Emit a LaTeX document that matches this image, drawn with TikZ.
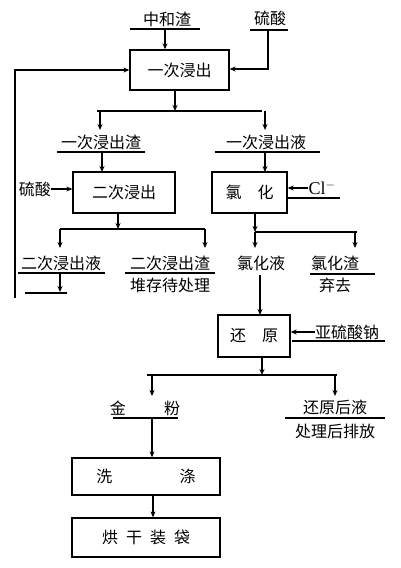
\documentclass[tikz,border=0pt]{standalone}
\usepackage{fontspec}
\setmainfont{Noto Sans CJK SC}
\newfontfamily\serifen{Liberation Serif}
\usetikzlibrary{arrows.meta}
\begin{document}
\begin{tikzpicture}[x=1pt,y=-1pt,
  ln/.style={line width=1.3pt},
  arr/.style={line width=1.3pt,-{Stealth[length=6pt,width=5pt]}},
  bx/.style={draw,line width=1.3pt,inner sep=0pt,font=\fontsize{16}{18}\selectfont},
  txt/.style={inner sep=0pt,font=\fontsize{16}{18}\selectfont}]
\useasboundingbox (0,0) rectangle (400,568);
% top inputs
\node[txt] (zhz) at (167,19) {中和渣};
\coordinate (u1a) at (130,29); \coordinate (u1b) at (200,29);
\draw[ln] (u1a) -- (u1b);
\node[txt] (ls1) at (270,18) {硫酸};
\coordinate (u2a) at (250,30); \coordinate (u2b) at (288,30);
\draw[ln] (u2a) -- (u2b);
% box 1
\node[bx,minimum width=99pt,minimum height=40pt] (b1) at (179.5,70) {一次浸出};
\coordinate (a1) at (165,29);
\draw[arr] (a1) -- (a1|-b1.north);
\coordinate (c1) at (268,30);
\coordinate (c2) at (268,69);
\draw[arr] (c1) -- (c2) -- (c2-|b1.east);
% recycle
\coordinate (r1) at (15,298);
\coordinate (r2) at (15,70);
\draw[arr] (r1) -- (r2) -- (b1.west);
% split 1
\coordinate (s1) at (175,111);
\draw[arr] (b1.south-|s1) -- (s1);
\draw[ln] (97,111) -- (262,111);
\node[txt] (t1) at (101,142) {一次浸出渣};
\node[txt] (t2) at (266,142) {一次浸出液};
\draw[arr] (100,111) -- (100,130);
\draw[arr] (265,111) -- (265,130);
\draw[ln] (57,152) -- (145,152);
\draw[ln] (215,152) -- (320,152);
% box 2, box 3
\node[bx,minimum width=102pt,minimum height=41pt] (b2) at (124,192.5) {二次浸出};
\node[bx,minimum width=75pt,minimum height=41pt] (b3) at (249.5,192.5) {氯\quad 化};
\draw[arr] (102,153) -- (102,172);
\draw[arr] (265,153) -- (265,172);
\node[txt] (ls2) at (35,189) {硫酸};
\draw[arr] (ls2.east) -- (b2.west|-ls2.east);
\node[txt,font=\fontsize{18}{20}\serifen] (cl) at (322,188) {Cl$^{-}$};
\draw[arr] (cl.west) -- (b3.east|-cl.west);
\draw[ln] (288,198) -- (340,198);
% split 2
\coordinate (s2) at (118,229);
\draw[arr] (b2.south-|s2) -- (s2);
\draw[ln] (60,229) -- (205,229);
\draw[arr] (60,229) -- (60,248);
\draw[arr] (205,229) -- (205,248);
\coordinate (s3) at (255,232);
\draw[arr] (b3.south-|s3) -- (s3);
\draw[ln] (255,232) -- (357,232);
\draw[arr] (255,232) -- (255,248);
\draw[arr] (355,232) -- (355,248);
% row texts
\node[txt] (t3) at (61,263) {二次浸出液};
\draw[ln] (18,273) -- (105,273);
\draw[arr] (60,274) -- (60,292);
\draw[ln] (25,293) -- (67,293);
\node[txt] (t4) at (170,263) {二次浸出渣};
\draw[ln] (125,273) -- (215,273);
\node[txt] (t4b) at (170,285) {堆存待处理};
\node[txt] (t5) at (261,263) {氯化液};
\node[txt] (t6) at (335,263) {氯化渣};
\draw[ln] (310,274) -- (375,274);
\node[txt] (t6b) at (335,285) {弃去};
% box 4
\node[bx,minimum width=72pt,minimum height=42pt] (b4) at (254,336) {还\quad 原};
\draw[arr] (260,275) -- (260,315);
\node[txt] (yl) at (347,332) {亚硫酸钠};
\draw[arr] (yl.west) -- (b4.east|-yl.west);
\draw[ln] (292,341) -- (385,341);
% split 4
\coordinate (s4) at (262,375);
\draw[arr] (b4.south-|s4) -- (s4);
\draw[ln] (147,375) -- (337,375);
\draw[arr] (152,375) -- (152,396);
\draw[arr] (335,375) -- (335,396);
\node[txt] (jf) at (145,408) {金\hspace{2.4em}粉};
\draw[ln] (113,418) -- (178,418);
\node[txt] (hy) at (335,407) {还原后液};
\draw[ln] (285,418) -- (385,418);
\node[txt] (hyb) at (335,431) {处理后排放};
% box 5, 6
\node[bx,minimum width=148pt,minimum height=37pt] (b5) at (146,476.5) {洗\hspace{4.2em}涤};
\coordinate (a5) at (152,419);
\draw[arr] (a5) -- (a5|-b5.north);
\node[bx,minimum width=148pt,minimum height=39pt] (b6) at (146,537.5) {烘\hspace{0.5em}干\hspace{0.5em}装\hspace{0.5em}袋};
\coordinate (a6) at (153,495);
\draw[arr] (a6) -- (a6|-b6.north);
\end{tikzpicture}
\end{document}
